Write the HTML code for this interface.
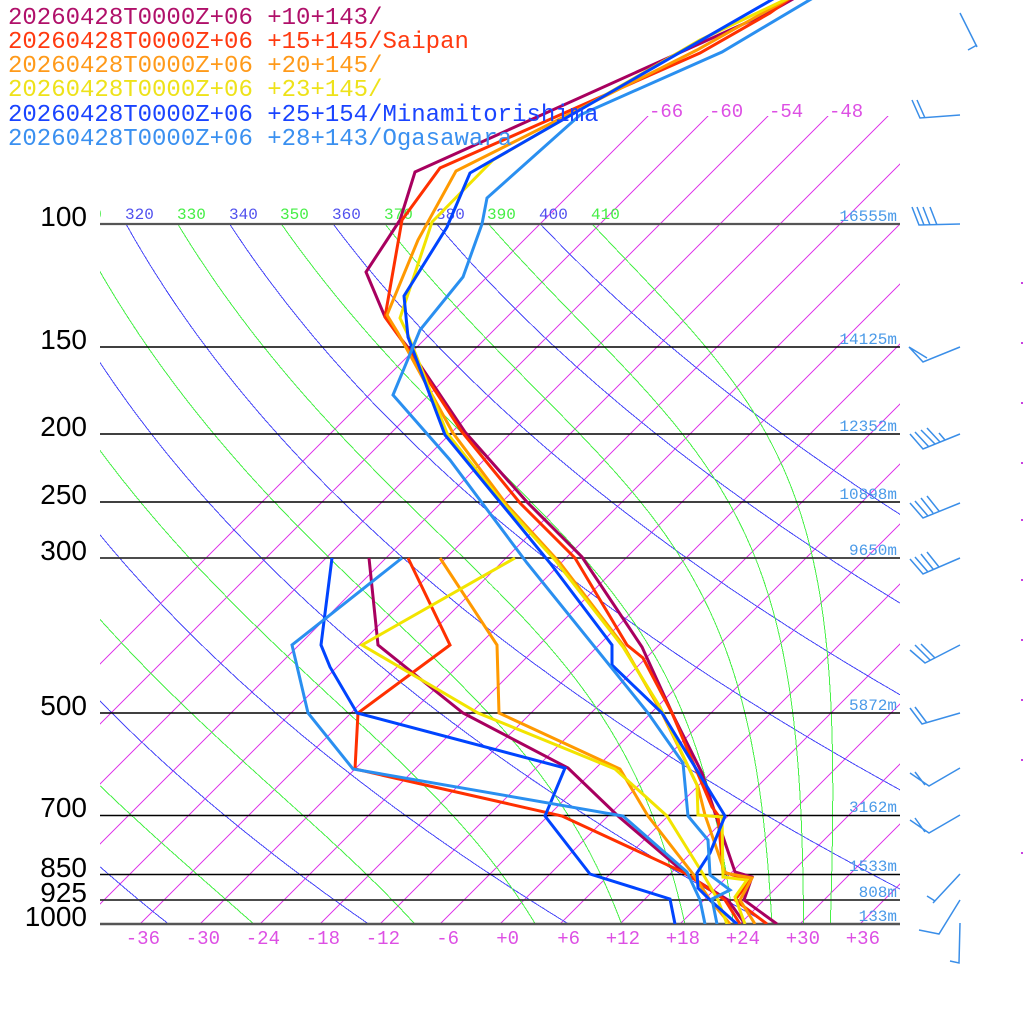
<!DOCTYPE html>
<html><head><meta charset="utf-8"><style>
html,body{margin:0;padding:0;background:#fff;}
svg{display:block;}
.mono{font-family:"Liberation Mono",monospace;}
.sans{font-family:"Liberation Sans",sans-serif;}
#grid path{shape-rendering:crispEdges;}
</style></head><body>
<svg id="root" width="1024" height="1024" viewBox="0 0 1024 1024" xmlns="http://www.w3.org/2000/svg">
<defs>
<clipPath id="cIso"><rect x="100" y="116" width="800" height="808"/></clipPath>
<clipPath id="cAd"><rect x="100" y="224" width="800" height="700"/></clipPath>
<clipPath id="cLab"><rect x="100" y="190" width="800" height="40"/></clipPath>
<clipPath id="cTop"><rect x="0" y="0" width="1024" height="924"/></clipPath>
</defs>
<rect x="0" y="0" width="1024" height="1024" fill="#fff"/>
<g id="grid"></g>

<!-- pressure lines -->
<g stroke="#000" stroke-width="1.5">
<line x1="100" y1="347" x2="900" y2="347"/>
<line x1="100" y1="434" x2="900" y2="434"/>
<line x1="100" y1="502" x2="900" y2="502"/>
<line x1="100" y1="558" x2="900" y2="558" stroke="#333" stroke-width="1.8"/>
<line x1="100" y1="713" x2="900" y2="713"/>
<line x1="100" y1="815.5" x2="900" y2="815.5"/>
<line x1="100" y1="874.5" x2="900" y2="874.5"/>
<line x1="100" y1="900" x2="900" y2="900" stroke="#333" stroke-width="1.8"/>
</g>
<line x1="100" y1="224" x2="900" y2="224" stroke="#555" stroke-width="2.2"/>
<line x1="100" y1="924" x2="900" y2="924" stroke="#555" stroke-width="2.5"/>

<!-- theta labels -->
<g class="mono" font-size="16" clip-path="url(#cLab)">
<text x="73" y="219" fill="#44ee44">310</text>
<text x="125" y="219" fill="#5050ee">320</text>
<text x="177" y="219" fill="#44ee44">330</text>
<text x="229" y="219" fill="#5050ee">340</text>
<text x="280" y="219" fill="#44ee44">350</text>
<text x="332" y="219" fill="#5050ee">360</text>
<text x="384" y="219" fill="#44ee44">370</text>
<text x="436" y="219" fill="#5050ee">380</text>
<text x="487" y="219" fill="#44ee44">390</text>
<text x="539" y="219" fill="#5050ee">400</text>
<text x="591" y="219" fill="#44ee44">410</text>
</g>

<!-- isotherm labels top -->
<g class="mono" font-size="19" fill="#dd4fe4">
<text x="649" y="117">-66</text>
<text x="709" y="117">-60</text>
<text x="769" y="117">-54</text>
<text x="829" y="117">-48</text>
</g>
<!-- bottom temp labels -->
<g class="mono" font-size="19" fill="#dd4fe4" text-anchor="end">
<text x="160" y="944">-36</text>
<text x="220" y="944">-30</text>
<text x="280" y="944">-24</text>
<text x="340" y="944">-18</text>
<text x="400" y="944">-12</text>
<text x="459" y="944">-6</text>
<text x="519" y="944">+0</text>
<text x="580" y="944">+6</text>
<text x="640" y="944">+12</text>
<text x="700" y="944">+18</text>
<text x="760" y="944">+24</text>
<text x="820" y="944">+30</text>
<text x="880" y="944">+36</text>
</g>

<!-- pressure labels -->
<g class="sans" font-size="28" fill="#000" text-anchor="end">
<text x="87" y="226">100</text>
<text x="87" y="349">150</text>
<text x="87" y="436">200</text>
<text x="87" y="504">250</text>
<text x="87" y="560">300</text>
<text x="87" y="715">500</text>
<text x="87" y="817">700</text>
<text x="87" y="877">850</text>
<text x="87" y="902">925</text>
<text x="87" y="926">1000</text>
</g>

<!-- heights -->
<g class="mono" font-size="16" fill="#4a9ae8" text-anchor="end">
<text x="897" y="221">16555m</text>
<text x="897" y="344">14125m</text>
<text x="897" y="431">12352m</text>
<text x="897" y="499">10898m</text>
<text x="897" y="555">9650m</text>
<text x="897" y="710">5872m</text>
<text x="897" y="812">3162m</text>
<text x="897" y="871">1533m</text>
<text x="897" y="897">808m</text>
<text x="897" y="921">133m</text>
</g>

<!-- profiles -->
<g fill="none" stroke-width="3" stroke-linejoin="miter" clip-path="url(#cTop)">
<polyline stroke="#a8005f" points="800,-5 770,12 690,48 415,172 400,220 387,240 366,272 385,317 398,335 410,350 465,432 527,502 582,557 642,647 673,715 702,773 716,816 735,872 752,877 744,900 777,924"/>
<polyline stroke="#a8005f" points="369,558 378,645 463,713 568,768 618,816 686,874 728,900 745,924"/>
<polyline stroke="#ff3000" points="795,-5 770,13 700,53 440,168 402,220 385,317 398,335 410,352 462,432 520,503 575,558 627,645 643,658 672,713 712,807 718,815 723,872 750,880 735,900 767,924"/>
<polyline stroke="#ff3000" points="408,558 450,645 358,713 355,769 562,816 687,874 725,900 740,924"/>
<polyline stroke="#ff9900" points="795,-5 697,50 456,171 418,240 387,315 398,333 453,433 507,505 560,563 623,645 662,713 698,787 705,815 725,873 752,878 740,900 755,924"/>
<polyline stroke="#ff9900" points="440,558 497,645 499,713 620,769 648,816 693,874 710,900 730,924"/>
<polyline stroke="#f2e400" points="795,-5 700,40 493,160 432,222 400,318 408,335 447,433 503,503 555,560 623,647 660,707 697,785 698,815 722,817 723,877 747,880 735,897 745,924"/>
<polyline stroke="#f2e400" points="515,558 362,645 478,713 615,769 667,816 703,874 718,900 727,924"/>
<polyline stroke="#0044ff" points="780,-5 470,173 447,227 404,296 408,337 445,435 550,563 612,645 612,665 662,713 725,816 710,853 697,873 698,888 710,900 737,924"/>
<polyline stroke="#0044ff" points="332,558 321,645 330,667 357,713 565,768 545,816 590,874 670,899 675,924"/>
<polyline stroke="#2a8ff0" points="818,-5 722,52 580,115 487,198 482,224 463,277 420,330 393,395 450,460 527,563 648,713 683,763 688,816 708,840 710,875 730,890 712,899 717,924"/>
<polyline stroke="#2a8ff0" points="402,558 292,645 308,713 353,769 623,816 687,872 700,900 705,924"/>
</g>

<!-- wind barbs -->
<g stroke="#3a8ee8" stroke-width="1.5" fill="none">
<path d="M960,13L977,47M977,45L968,50"/>
<path d="M960,115L920,118L912,100M925,118L917,100"/>
<path d="M960,224L919,225L912,207M924,225L917,207M930,225L923,207M937,225L930,207"/>
<path d="M960,347L923,362L909,347L927,358"/>
<path d="M960,434L923,449L910,434M929,447L915,432M935,444L921,430M940,442L927,428M945,440L939,433"/>
<path d="M960,503L923,518L910,503M928,516L915,501M933,513L921,498M939,511L927,496"/>
<path d="M960,558L923,574L910,559M928,572L915,557M933,569L921,554M939,567L927,552"/>
<path d="M960,645L925,663L910,650M930,660L915,645M935,658L921,644"/>
<path d="M960,713L922,724L910,708M927,723L915,707"/>
<path d="M960,768L929,786L910,773M925,785L915,772"/>
<path d="M960,815L929,833L910,820M925,832L915,818"/>
<path d="M960,874L933,903M935,901L927,896"/>
<path d="M960,900L939,934L919,930"/>
<path d="M960,923L959,963L950,961"/>
</g>

<g fill="#c840e0">
<rect x="1021" y="282" width="2" height="2"/>
<rect x="1021" y="342" width="2" height="2"/>
<rect x="1021" y="402" width="2" height="2"/>
<rect x="1021" y="462" width="2" height="2"/>
<rect x="1021" y="519" width="2" height="2"/>
<rect x="1021" y="579" width="2" height="2"/>
<rect x="1021" y="639" width="2" height="2"/>
<rect x="1021" y="699" width="2" height="2"/>
<rect x="1021" y="759" width="2" height="2"/>
<rect x="1021" y="852" width="2" height="2"/>
</g>

<!-- legend -->
<g class="mono" font-size="24">
<text x="8" y="24" fill="#b0106a">20260428T0000Z+06 +10+143/</text>
<text x="8" y="48" fill="#ff3a10">20260428T0000Z+06 +15+145/Saipan</text>
<text x="8" y="72" fill="#ff9a1a">20260428T0000Z+06 +20+145/</text>
<text x="8" y="96" fill="#eee21a">20260428T0000Z+06 +23+145/</text>
<text x="8" y="121" fill="#1a44ff">20260428T0000Z+06 +25+154/Minamitorishima</text>
<text x="8" y="145" fill="#3a90f0">20260428T0000Z+06 +28+143/Ogasawara</text>
</g>
</svg>
<script>
(function(){
var g=document.getElementById('grid');
var NS='http://www.w3.org/2000/svg';
function Y(p){return 924-304*Math.log(1000/p);}
function X(Tc,y){return 500+10*Tc+(924-y);}
function add(d,stroke,w,clip){var e=document.createElementNS(NS,'path');e.setAttribute('d',d);e.setAttribute('stroke',stroke);e.setAttribute('stroke-width',w);e.setAttribute('fill','none');e.setAttribute('shape-rendering','crispEdges');e.setAttribute('clip-path','url(#'+clip+')');g.appendChild(e);}
var T,th,p,d,y;
for(T=-66;T<=36;T+=6){add('M'+X(T,924)+',924L'+X(T,116)+',116','#e040ea',1,'cIso');}
for(th=180;th<=400;th+=20){d='';for(p=100;p<=1000;p+=5){y=Y(p);d+=(p==100?'M':'L')+X(th*Math.pow(p/1000,0.2857)-273.15,y).toFixed(1)+','+y.toFixed(1);}add(d,'#4a4af8',1,'cAd');}
function dTdp(p,T){var Tc=T-273.15;var es=6.112*Math.exp(17.67*Tc/(Tc+243.5));var rs=0.622*es/(p-es);var Rd=287.04,cp=1005.7,L=2.501e6;return (Rd*T+L*rs)/(cp+L*L*rs*0.622/(Rd*T*T))/p;}
for(th=210;th<=410;th+=20){var Tk=th*Math.pow(0.1,0.2857);p=100;d='M'+X(Tk-273.15,Y(p)).toFixed(1)+','+Y(p).toFixed(1);var dp=2;while(p<1000){var k1=dTdp(p,Tk);var k2=dTdp(p+dp/2,Tk+k1*dp/2);Tk+=k2*dp;p+=dp;y=Y(p);d+='L'+X(Tk-273.15,y).toFixed(1)+','+y.toFixed(1);}add(d,'#48f048',1,'cAd');}
})();
</script>
</body></html>
